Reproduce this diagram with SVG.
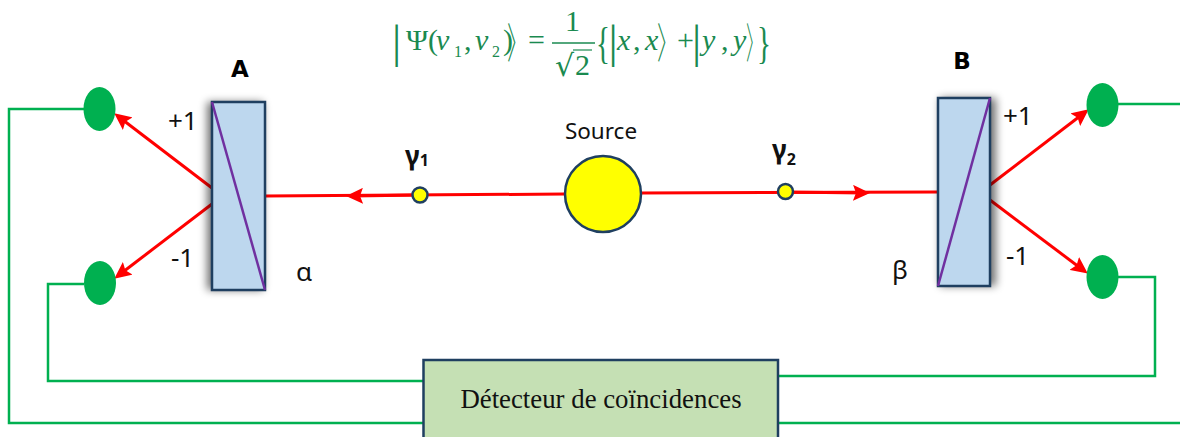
<svg xmlns="http://www.w3.org/2000/svg" width="1180" height="437" viewBox="0 0 1180 437">
<style>
.wire{fill:none;stroke:#00b050;stroke-width:2.5}
.ray{fill:none;stroke:#f00;stroke-width:3}
.det{fill:#00b050}
.pol{fill:#bdd7ee;stroke:#1f3f60;stroke-width:2.5}
.diag{stroke:#7030a0;stroke-width:2.5;fill:none}
.dot{fill:#ff0;stroke:#1f3f60;stroke-width:2.5}
.lab{font-family:"Noto Sans",sans-serif;font-size:26px;fill:#111}
.src{font-family:"Noto Sans",sans-serif;font-size:22.5px;fill:#111}
.gam{font-family:"Noto Sans",sans-serif;font-size:26px;font-weight:bold;fill:#111}
.gsub{font-size:16px}
.bold{font-family:"DejaVu Sans",sans-serif;font-size:23px;font-weight:bold;fill:#000}
.eq{font-family:"Liberation Serif",serif;font-size:30px;fill:#1a8a50}
.it{font-style:italic}
.sub{font-size:16px}
.bar{font-size:46px;font-weight:normal}
.ang{font-family:"Noto Sans CJK SC",sans-serif;font-size:42px;font-weight:300}
</style>
<defs>
<marker id="head" markerUnits="userSpaceOnUse" markerWidth="17" markerHeight="16" viewBox="0 0 17 16" refX="11" refY="8" orient="auto"><path d="M0 0L17 8L0 16L3 8Z" fill="#f00"/></marker>
<filter id="shA" x="-40%" y="-10%" width="180%" height="120%"><feGaussianBlur stdDeviation="4"/></filter>
</defs>
<g id="equation">
<text class="eq bar" x="392" y="57">|</text>
<text class="eq" x="406" y="50">Ψ</text>
<text class="eq" x="428" y="50">(</text>
<text class="eq it" x="436" y="50">ν</text>
<text class="eq sub" x="454" y="57">1</text>
<text class="eq" x="464" y="50">,</text>
<text class="eq it" x="475" y="50">ν</text>
<text class="eq sub" x="492" y="57">2</text>
<text class="eq" x="503" y="50">)</text>
<text class="eq ang" transform="translate(507 58) scale(.5 1)">〉</text>
<text class="eq" x="528" y="50">=</text>
<text class="eq" x="565" y="31">1</text>
<line x1="552" y1="43" x2="595" y2="43" stroke="#1a8a50" stroke-width="1.5"/>
<text class="eq" x="555" y="76" style="font-family:'DejaVu Sans',sans-serif">√</text>
<line x1="573" y1="50" x2="592" y2="50" stroke="#1a8a50" stroke-width="1.2"/>
<text class="eq" x="575" y="75">2</text>
<text class="eq" transform="translate(596 58) scale(.66 1)" style="font-size:44px">{</text>
<text class="eq bar" x="608.500" y="57">|</text>
<text class="eq it" x="617" y="50">x</text>
<text class="eq" x="633" y="50">,</text>
<text class="eq it" x="645" y="50">x</text>
<text class="eq ang" transform="translate(657 58) scale(.5 1)">〉</text>
<text class="eq" x="677" y="50">+</text>
<text class="eq bar" x="692" y="57">|</text>
<text class="eq it" x="702" y="50">y</text>
<text class="eq" x="721" y="50">,</text>
<text class="eq it" x="733" y="50">y</text>
<text class="eq ang" transform="translate(746 58) scale(.4 1)">〉</text>
<text class="eq" transform="translate(757 58) scale(.66 1)" style="font-size:44px">}</text>
</g>
<g id="connectors">
<path class="wire" d="M84 109H9V423H423"/>
<path class="wire" d="M84 284H48V381H423"/>
<path class="wire" d="M1118 104H1180"/>
<path class="wire" d="M1118 277H1155V376H778"/>
<path class="wire" d="M778 423H1180"/>
<path class="ray" d="M265 196L565 194"/>
<path class="ray" d="M420 195L352 196" marker-end="url(#head)"/>
<path class="ray" d="M640 193L938 192"/>
<path class="ray" d="M786 192L864 193" marker-end="url(#head)"/>
<path class="ray" d="M212 188L119 117" marker-end="url(#head)"/>
<path class="ray" d="M212 204L119 275" marker-end="url(#head)"/>
<path class="ray" d="M990 185L1084 113" marker-end="url(#head)"/>
<path class="ray" d="M990 200L1083 270" marker-end="url(#head)"/>
</g>
<g id="polarizer-a">
<rect x="207" y="102" width="56" height="188" fill="#000" opacity=".55" filter="url(#shA)"/>
<rect class="pol" x="212" y="102" width="53" height="188"/>
<path class="diag" d="M212 102L265 290"/>
<text class="bold" x="240" y="77" text-anchor="middle">A</text>
<text class="lab" x="168" y="130">+1</text>
<text class="lab" x="171" y="267">-1</text>
<text class="lab" x="296" y="281">α</text>
</g>
<g id="polarizer-b">
<rect x="940" y="98" width="56" height="188" fill="#000" opacity=".55" filter="url(#shA)"/>
<rect class="pol" x="938" y="98" width="52" height="188"/>
<path class="diag" d="M938 286L990 98"/>
<text class="bold" x="962" y="69" text-anchor="middle">B</text>
<text class="lab" x="1003" y="125">+1</text>
<text class="lab" x="1006" y="265">-1</text>
<text class="lab" x="892" y="279">β</text>
</g>
<g id="detector-a-plus"><ellipse class="det" cx="99.500" cy="109" rx="16" ry="22"/></g>
<g id="detector-a-minus"><ellipse class="det" cx="100" cy="283" rx="16" ry="22"/></g>
<g id="detector-b-plus"><ellipse class="det" cx="1102.500" cy="105" rx="16" ry="22"/></g>
<g id="detector-b-minus"><ellipse class="det" cx="1102.500" cy="277" rx="16" ry="22"/></g>
<g id="source">
<circle class="dot" cx="603" cy="194" r="38"/>
<text class="src" x="601" y="139" text-anchor="middle">Source</text>
</g>
<g id="photon-1">
<circle class="dot" cx="420" cy="195" r="7.500"/>
<text class="gam" x="405" y="165">γ<tspan class="gsub" dy="1">1</tspan></text>
</g>
<g id="photon-2">
<circle class="dot" cx="785.500" cy="191.500" r="7.500"/>
<text class="gam" x="772" y="159">γ<tspan class="gsub" dy="6">2</tspan></text>
</g>
<g id="coincidence">
<rect x="423.500" y="360" width="354.500" height="90" fill="#c5e0b4" stroke="#1f3f60" stroke-width="2.500"/>
<text x="601" y="408" text-anchor="middle" style="font-family:'Liberation Serif',serif;font-size:26.800px;fill:#111">Détecteur de coïncidences</text>
</g>
</svg>
